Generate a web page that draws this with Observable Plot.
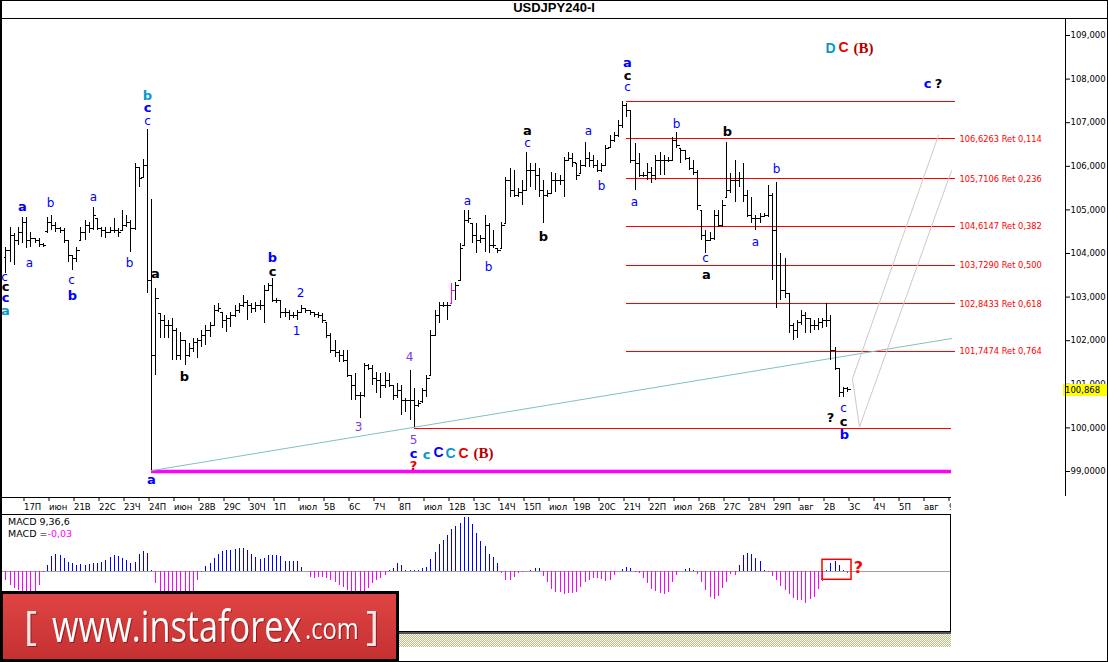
<!DOCTYPE html>
<html><head><meta charset="utf-8">
<script src="https://cdn.jsdelivr.net/npm/d3@7"></script>
<script src="https://cdn.jsdelivr.net/npm/@observablehq/plot@0.6"></script>
<style>
html,body{margin:0;padding:0;background:#fff;}
#wrap{position:relative;width:1108px;height:662px;overflow:hidden;background:#fff;font-family:"DejaVu Sans",sans-serif;}
.ln{position:absolute;background:#000;}
.abs{position:absolute;}
</style></head><body><div id="wrap"></div>
<script>
// ---------- DATA ----------
const dayLabels = ["17П","июн","21В","22С","23Ч","24П","июн","28В","29С","30Ч","1П","июл","5В","6С","7Ч","8П","июл","12В","13С","14Ч","15П","июл","19В","20С","21Ч","22П","июл","26В","27С","28Ч","29П","авг","2В","3С","4Ч","5П","авг","9"];
const priceTicks = [99,100,101,102,103,104,105,106,107,108,109];
const priceTickLabels = ["99,0000","100,000","101,000","102,000","103,000","104,000","105,000","106,000","107,000","108,000","109,000"];

const high = [104.14,104.60,104.46,104.60,104.83,104.83,104.48,104.34,104.34,104.23,
104.83,104.87,104.71,104.60,104.57,104.30,103.95,104.14,104.60,104.76,
104.71,105.06,104.80,104.60,104.60,104.60,104.80,104.57,104.99,104.87,
104.76,106.06,105.97,106.16,106.84,105.24,103.20,102.62,102.58,102.46,
102.51,102.28,102.19,102.00,101.94,102.05,102.05,102.23,102.35,102.42,
102.81,102.85,102.65,102.58,102.65,102.81,102.85,103.04,102.92,102.85,
102.88,102.92,103.27,103.31,103.43,102.97,102.92,102.74,102.69,102.65,
102.69,102.81,102.74,102.69,102.65,102.65,102.62,102.42,102.17,102.00,
101.78,101.78,101.78,101.20,101.25,100.81,101.48,101.45,101.43,101.27,
101.25,101.27,101.25,100.97,101.02,100.97,100.67,101.32,100.90,100.63,
100.90,101.20,102.23,102.69,102.88,102.88,102.88,103.31,103.33,104.23,
104.99,104.99,104.69,104.69,104.41,104.87,104.69,104.53,104.11,104.71,
105.74,105.95,105.90,105.49,105.67,106.32,106.06,106.06,105.95,105.67,
105.45,105.86,105.83,105.79,106.20,106.32,106.29,106.06,106.13,106.55,
106.32,106.25,106.13,106.06,106.48,106.71,106.78,107.05,107.49,107.45,
107.28,106.52,106.29,105.86,106.06,105.97,106.25,106.32,106.25,106.20,
106.66,106.78,106.41,106.36,106.20,106.13,105.90,104.99,104.53,104.48,
104.99,104.99,105.22,106.55,105.83,106.13,105.86,106.06,105.45,105.29,
104.87,104.92,104.92,105.56,105.38,105.63,104.00,103.89,103.08,102.39,
102.46,102.69,102.65,102.51,102.46,102.51,102.51,102.85,102.58,101.84,
101.36,100.93,100.93];
const low = [103.54,103.79,103.72,104.18,104.23,104.11,104.14,104.23,104.14,104.14,
104.46,104.53,104.48,104.46,104.23,103.79,103.61,103.79,104.30,104.30,
104.46,104.53,104.53,104.37,104.34,104.46,104.46,104.37,104.53,104.60,
104.02,104.53,105.51,105.74,103.08,99.02,101.20,102.05,102.05,102.05,
101.55,101.55,101.55,101.43,101.61,101.73,101.59,101.84,101.89,102.07,
102.35,102.65,102.28,102.19,102.30,102.53,102.62,102.76,102.46,102.62,
102.65,102.69,102.39,103.15,102.88,102.85,102.51,102.53,102.46,102.51,
102.46,102.62,102.62,102.58,102.53,102.51,102.39,102.05,101.71,101.61,
101.50,101.50,101.16,100.63,100.63,100.22,100.70,101.32,100.97,100.79,
100.67,100.90,100.93,100.63,100.67,100.28,100.35,100.17,100.01,100.47,
100.56,100.70,101.20,102.12,102.39,102.76,102.46,102.85,102.92,103.38,
104.18,104.69,104.23,104.00,104.23,104.02,104.00,104.11,104.00,104.11,
104.69,105.28,105.28,105.28,105.10,105.45,105.51,105.45,105.28,104.69,
105.28,105.38,105.40,105.56,105.28,106.13,105.97,105.67,105.83,105.97,
105.97,105.95,105.86,105.86,106.02,106.43,106.55,106.67,106.87,107.12,
106.06,105.45,105.74,105.74,105.67,105.60,105.67,105.79,105.79,106.09,
106.13,106.41,106.06,106.13,105.90,105.79,104.99,104.30,104.00,104.30,
104.30,104.60,104.60,105.28,105.38,105.17,105.51,105.17,104.83,104.69,
104.53,104.69,104.83,104.83,103.38,102.74,102.92,102.97,102.17,102.00,
102.05,102.35,102.17,102.17,102.23,102.23,102.28,102.30,101.55,101.32,
100.70,100.70,100.81];
const open = [103.90,104.07,104.41,104.30,104.48,104.71,104.30,104.34,104.30,104.21,
104.50,104.71,104.64,104.57,104.53,104.30,103.95,103.89,104.30,104.48,
104.64,104.57,104.80,104.57,104.53,104.48,104.53,104.53,104.53,104.64,
104.71,104.57,105.97,105.74,106.02,103.38,101.66,102.62,102.46,102.35,
102.35,102.23,101.66,102.00,101.66,101.82,101.96,102.00,102.12,102.23,
102.35,102.69,102.65,102.46,102.51,102.58,102.69,102.81,102.88,102.81,
102.74,102.81,102.81,103.15,103.27,102.92,102.92,102.65,102.65,102.58,
102.58,102.65,102.74,102.69,102.65,102.60,102.58,102.42,102.12,101.78,
101.73,101.66,101.55,101.20,100.97,100.74,100.74,101.43,101.36,101.13,
101.09,100.97,101.09,100.97,100.74,100.86,100.63,100.63,100.63,100.51,
100.60,100.86,101.20,102.12,102.58,102.81,102.81,102.85,103.15,103.38,
104.18,104.76,104.69,104.41,104.30,104.34,104.64,104.18,104.11,104.11,
104.69,105.67,105.45,105.33,105.40,105.45,105.90,105.90,105.79,105.45,
105.33,105.38,105.67,105.67,105.67,106.13,106.18,106.06,105.83,106.02,
106.18,106.13,106.02,105.90,106.02,106.43,106.59,106.71,106.94,107.40,
107.28,106.13,106.06,105.79,105.79,105.86,105.79,106.13,106.13,106.13,
106.13,106.59,106.41,106.36,106.18,105.95,105.86,104.99,104.41,104.30,
104.34,104.87,104.64,105.28,105.45,105.67,105.67,105.72,105.33,104.87,
104.80,104.80,104.85,104.87,105.33,104.53,103.72,103.15,103.08,102.35,
102.23,102.42,102.58,102.51,102.35,102.35,102.42,102.46,102.46,101.78,
101.36,100.81,100.90];
const close = [104.07,104.41,104.30,104.48,104.71,104.30,104.34,104.30,104.21,104.18,
104.71,104.64,104.57,104.53,104.30,103.95,103.89,104.07,104.48,104.64,
104.57,104.87,104.57,104.53,104.48,104.53,104.53,104.48,104.64,104.71,
104.57,105.97,105.72,106.02,103.38,101.66,102.97,102.46,102.35,102.35,
102.23,101.66,102.00,101.66,101.82,101.96,102.00,102.12,102.23,102.35,
102.69,102.74,102.46,102.51,102.58,102.69,102.81,102.88,102.81,102.74,
102.81,102.81,103.15,103.27,102.92,102.92,102.65,102.65,102.58,102.58,
102.65,102.74,102.69,102.65,102.60,102.58,102.46,102.12,101.78,101.73,
101.66,101.55,101.20,100.97,100.74,100.74,101.43,101.36,101.13,101.09,
100.97,101.09,100.97,100.74,100.86,100.63,100.63,100.63,100.51,100.56,
100.86,101.13,102.12,102.58,102.81,102.81,102.81,103.15,103.27,104.11,
104.76,104.80,104.41,104.30,104.34,104.64,104.18,104.18,104.07,104.64,
105.67,105.45,105.33,105.40,105.45,105.90,105.90,105.79,105.45,105.33,
105.38,105.67,105.67,105.67,106.13,106.18,106.09,105.79,106.02,106.18,
106.13,106.02,105.90,106.02,106.41,106.59,106.71,106.94,107.40,107.28,
106.13,106.06,105.79,105.79,105.86,105.79,106.13,106.13,106.13,106.13,
106.59,106.48,106.36,106.18,105.95,105.86,105.10,104.41,104.30,104.34,
104.87,104.64,105.10,105.45,105.67,105.67,105.72,105.33,104.87,104.80,
104.80,104.85,104.87,105.33,104.53,103.72,103.15,103.08,102.35,102.23,
102.42,102.58,102.51,102.35,102.35,102.42,102.46,102.46,101.78,101.36,
100.81,100.90,100.87];
const markedBar = 107;           // bar drawn in magenta
const lastPrice = 100.868;

const macd = [-0.18,-0.30,-0.36,-0.40,-0.44,-0.48,-0.48,-0.44,-0.30,-0.02,
0.14,0.32,0.38,0.34,0.28,0.20,0.18,0.14,0.15,0.14,
0.15,0.17,0.18,0.20,0.24,0.30,0.35,0.32,0.28,0.24,
0.18,0.20,0.38,0.44,0.40,0.03,-0.26,-0.55,-0.75,-0.85,
-0.90,-0.88,-0.80,-0.66,-0.50,-0.42,-0.18,-0.02,0.12,0.18,
0.28,0.38,0.44,0.46,0.46,0.47,0.49,0.49,0.46,0.38,
0.30,0.26,0.28,0.35,0.35,0.35,0.32,0.23,0.23,0.23,
0.23,0.10,0.01,-0.12,-0.15,-0.12,-0.12,-0.15,-0.18,-0.22,
-0.30,-0.33,-0.40,-0.44,-0.46,-0.44,-0.42,-0.36,-0.26,-0.18,
-0.15,-0.08,0.02,0.06,0.17,0.14,0.03,0.03,0.03,0.03,
0.06,0.10,0.26,0.42,0.58,0.68,0.78,0.90,0.98,1.03,
1.16,1.16,1.02,0.83,0.64,0.54,0.38,0.30,0.17,-0.04,
-0.18,-0.18,-0.12,-0.04,-0.01,0.01,0.03,0.06,0.06,-0.10,
-0.24,-0.37,-0.44,-0.44,-0.48,-0.46,-0.46,-0.44,-0.34,-0.24,
-0.19,-0.15,-0.15,-0.17,-0.20,-0.19,-0.08,0.01,0.04,0.10,
0.08,-0.01,-0.04,-0.15,-0.26,-0.37,-0.42,-0.46,-0.48,-0.44,
-0.22,-0.08,0.01,0.04,0.08,0.03,-0.06,-0.22,-0.40,-0.55,
-0.60,-0.52,-0.36,-0.24,-0.06,-0.08,0.14,0.34,0.40,0.38,
0.28,0.21,0.03,-0.01,-0.10,-0.19,-0.32,-0.39,-0.48,-0.57,
-0.62,-0.62,-0.68,-0.60,-0.54,-0.38,-0.20,0.03,0.17,0.22,
0.14,0.03,-0.03];

// Fibonacci retracement of the 107.48 -> 99.976 swing
const fibTop = 107.482, fibBottom = 99.976;
const fibPrices = [106.6263,105.7106,104.6147,103.7290,102.8433,101.7474];
const fibRatios = ["0,114","0,236","0,382","0,500","0,618","0,764"];
const fibStartBar = 149, fibEndBar = 228, fibBottomStartBar = 98, lineEndBar = 227;
const supportPrice = 99.0, supportStartBar = 35;
const trendLine = [{bar:35, price:99.02},{bar:227, price:102.05}];
const projA = [{bar:203.2, price:101.13},{bar:204.9, price:100.02},{bar:226.9, price:105.90}];
const projB = [{bar:203.2, price:101.13},{bar:223.8, price:106.71}];

// wave labels: [text, colour, bar, price]
const labelsNormal = [["b","blue",10.7,105.15],["a","blue",21.0,105.29],["c","blue",34.0,107.03],["c","blue",-0.3,103.45],
["a","blue",5.7,103.79],["c","blue",15.8,103.40],["b","blue",29.7,103.77],["2","blue",70.7,103.08],["1","blue",69.8,102.21],
["3","purple",84.6,100.01],["4","purple",96.9,101.62],["5","purple",97.8,99.71],["a","blue",110.8,105.19],["b","blue",115.8,103.68],
["c","blue",125.2,106.52],["a","blue",139.8,106.80],["b","blue",143.0,105.54],["c","blue",149.2,107.81],["a","blue",150.9,105.17],
["b","blue",161.0,106.96],["c","blue",167.9,103.89],["a","blue",179.9,104.25],["b","blue",185.0,105.93],["c","blue",201.1,100.45]];
const labelsBold = [["a","blue",4.0,105.06],["b","teal",34.0,107.62],["c","blue",34.0,107.33],["b","blue",64.0,103.91],
["c","black",64.0,103.59],["c","black",-0.1,103.24],["c","blue",-0.1,102.99],["a","teal",-0.1,102.69],["b","blue",16.0,103.04],
["a","black",35.9,103.54],["b","black",42.9,101.16],["a","blue",35.0,98.82],["c","blue",97.8,99.41],["c","teal",101.0,99.39],
["a","black",125.2,106.82],["b","black",129.0,104.39],["a","blue",149.2,108.38],["c","black",149.2,108.08],["a","black",168.2,103.52],
["b","black",173.2,106.80],["?","black",197.9,100.24],["c","black",201.1,100.15],["b","blue",201.3,99.85],["c","blue",221.2,107.90],
["?","black",223.8,107.90],["?","red",97.8,99.14]];
const labelsBig = [["C","blue",103.8,99.43],["C","teal",106.7,99.41],["C","red",109.8,99.41],["D","teal",197.9,108.70],["C","red",201.1,108.72]];
const labelsSerif = [["(B)","dred",114.6,99.41],["(B)","dred",205.8,108.72]];
const macdBox = [{bar1:196.1, bar2:202.9, v1:-0.171, v2:0.257}];
const macdNote = [{bar:204.6, v:0.086, t:"?"}];

// ---------- STYLE ----------
const col = {blue:"#0000ff", teal:"#0a98cc", black:"#000000", purple:"#7a3cf0", red:"#e80000", dred:"#b00000"};
const toObj = a => a.map(([t,c,bar,price]) => ({t, c:col[c], bar, price}));

const bars = high.map((h,i) => ({i, high:h, low:low[i], open:open[i], close:close[i]}));
const fib = fibPrices.map((p,k) => ({price:p, label: p.toFixed(4).replace(".",",") + " Ret " + fibRatios[k]}));
const macdData = macd.map((v,i) => ({i, v}));

const wrap = document.getElementById("wrap");
function line(x,y,w,h,c){const d=document.createElement("div");d.className="ln";d.style.cssText=`left:${x}px;top:${y}px;width:${w}px;height:${h}px;`+(c?`background:${c};`:"");wrap.appendChild(d);return d;}

// title
const title = document.createElement("div");
title.className="abs";
title.style.cssText='left:0;top:0;width:1108px;height:18px;line-height:19px;text-align:center;font:bold 13px "Liberation Sans",sans-serif;color:#000;';
title.textContent="USDJPY240-I";
wrap.appendChild(title);

// ---------- MAIN CHART ----------
const xDomMain = [-1.28, 254.32];
const main = Plot.plot({
  width:1108, height:498, marginLeft:0, marginRight:43, marginTop:0, marginBottom:19,
  x:{type:"linear", domain:xDomMain, axis:null, round:true},
  y:{domain:[98.4037,109.3899], axis:null},
  style:{background:"transparent", fontFamily:"DejaVu Sans", fontSize:"8.5px", overflow:"visible", color:"#000"},
  marks:[
    Plot.ruleY(fib, {y:"price", x1:fibStartBar, x2:fibEndBar, stroke:"#ff0000", strokeWidth:1, shapeRendering:"crispEdges"}),
    Plot.ruleY([fibTop], {x1:fibStartBar, x2:fibEndBar, stroke:"#ff0000", strokeWidth:1, shapeRendering:"crispEdges"}),
    Plot.ruleY([fibBottom], {x1:fibBottomStartBar, x2:lineEndBar, stroke:"#ff0000", strokeWidth:1, shapeRendering:"crispEdges"}),
    Plot.ruleY([supportPrice], {x1:supportStartBar, x2:lineEndBar, stroke:"#ff00ff", strokeWidth:3.5}),
    Plot.line(trendLine, {x:"bar", y:"price", stroke:"#80c0c0", strokeWidth:1}),
    Plot.line(projA, {x:"bar", y:"price", stroke:"#cdc6d2", strokeWidth:1}),
    Plot.line(projB, {x:"bar", y:"price", stroke:"#cdc6d2", strokeWidth:1}),
    Plot.ruleX(bars, {x:"i", y1:"low", y2:"high", stroke:d => d.i===markedBar ? "#ff00ff" : "#000", strokeWidth:1, shapeRendering:"crispEdges"}),
    Plot.link(bars, {x1:d=>d.i-0.62, x2:"i", y1:"open", y2:"open", stroke:d => d.i===markedBar ? "#ff00ff" : "#000", shapeRendering:"crispEdges"}),
    Plot.link(bars, {x1:"i", x2:d=>d.i+0.62, y1:"close", y2:"close", stroke:d => d.i===markedBar ? "#ff00ff" : "#000", shapeRendering:"crispEdges"}),
    Plot.text(fib, {x:fibEndBar+0.9, y:"price", text:"label", textAnchor:"start", fill:"#ff0000", fontSize:8.3}),
    Plot.text(toObj(labelsNormal), {x:"bar", y:"price", text:"t", fill:"c", fontSize:12, fontFamily:"DejaVu Sans"}),
    Plot.text(toObj(labelsBold), {x:"bar", y:"price", text:"t", fill:"c", fontSize:13, fontWeight:"bold", fontFamily:"DejaVu Sans"}),
    Plot.text(toObj(labelsBig), {x:"bar", y:"price", text:"t", fill:"c", fontSize:14, fontWeight:"bold", fontFamily:"Liberation Sans"}),
    Plot.text(toObj(labelsSerif), {x:"bar", y:"price", text:"t", fill:"c", fontSize:15, fontWeight:"bold", fontFamily:"Liberation Serif"}),
    Plot.axisX(d3.range(4, 227, 6), {anchor:"bottom", tickSize:4, tickPadding:2, textAnchor:"start", dx:1.5, tickFormat:(d,i)=>dayLabels[i], label:null, fontSize:8.5}),
    Plot.axisY(priceTicks, {anchor:"right", tickSize:4, tickPadding:1, tickFormat:(d,i)=>priceTickLabels[i], label:null, fontSize:8.5})
  ]
});
main.style.position="absolute"; main.style.left="0px"; main.style.top="18px";
wrap.appendChild(main);

// current price box, placed through the chart's own y scale
const yPix = 18 + main.scale("y").apply(lastPrice);
const pbox = document.createElement("div");
pbox.className="abs";
pbox.style.cssText=`left:1063px;top:${yPix-6}px;width:46px;height:12px;background:#ffff00;font:8.5px "DejaVu Sans";line-height:12px;padding-left:2px;color:#000;`;
pbox.textContent = lastPrice.toFixed(3).replace(".",",");
wrap.appendChild(pbox);

// ---------- MACD ----------
const macdPlot = Plot.plot({
  width:950, height:118, marginLeft:0, marginRight:0, marginTop:1, marginBottom:1,
  x:{type:"linear", domain:[-1.28, -1.28 + 950/4.16667], axis:null, round:true},
  y:{domain:[-1.279,1.206], axis:null},
  style:{background:"transparent", overflow:"visible"},
  marks:[
    Plot.ruleY([0], {stroke:"#a0a0a0", strokeWidth:1, shapeRendering:"crispEdges"}),
    Plot.ruleX(macdData, {x:"i", y1:0, y2:"v", stroke:d => d.v>=0 ? "#0000ff" : "#ff00ff", strokeWidth:1, shapeRendering:"crispEdges"}),
    Plot.rect(macdBox, {x1:"bar1", x2:"bar2", y1:"v1", y2:"v2", fill:"none", stroke:"#ff0000", strokeWidth:1.5}),
    Plot.text(macdNote, {x:"bar", y:"v", text:"t", fill:"#ff0000", fontSize:16, fontWeight:"bold", fontFamily:"DejaVu Sans"})
  ]
});
macdPlot.style.position="absolute"; macdPlot.style.left="0px"; macdPlot.style.top="514px";
wrap.appendChild(macdPlot);

const mt = document.createElement("div");
mt.className="abs";
mt.style.cssText='left:8px;top:516px;font:9.5px "DejaVu Sans";line-height:12px;color:#000;';
mt.innerHTML='MACD 9,36,6<br>MACD =<span style="color:#ff00ff">' + macd[macd.length-1].toFixed(2).replace(".",",") + '</span>';
wrap.appendChild(mt);

// ---------- FRAMES ----------
line(0,0,1108,1);           // top
line(0,0,2,662);            // left
line(1107,0,1,662);         // right
line(0,661,1108,1);         // bottom
line(0,18,1108,1);          // title separator
line(1065,18,1,478);        // price axis
line(0,497,951,1);          // x-axis row top
line(951,498,113,16,"#fff");// clip axis labels beyond the panel
line(0,514,951,1);          // macd top
line(950,514,1,118);        // macd right
line(0,631,951,1);          // macd bottom
line(0,632,951,2,"#555");
const hatch = document.createElement("div");
hatch.className="abs";
hatch.style.cssText="left:0;top:634px;width:951px;height:13px;background:repeating-conic-gradient(#bdbd8c 0 25%, #fbfbf2 0 50%) 0 0/2px 2px;";
wrap.appendChild(hatch);

// ---------- LOGO ----------
const logo = document.createElementNS("http://www.w3.org/2000/svg","svg");
logo.setAttribute("width","399"); logo.setAttribute("height","71");
logo.style.cssText="position:absolute;left:0;top:591px;";
logo.innerHTML = `<defs><linearGradient id="lg" x1="0" y1="0" x2="0" y2="1"><stop offset="0" stop-color="#e04545"/><stop offset="1" stop-color="#c43030"/></linearGradient></defs>
<rect x="1.5" y="1.5" width="396" height="68" fill="url(#lg)" stroke="#000" stroke-width="3"/>
<g font-family="Open Sans" fill="#fff" style="filter:drop-shadow(1px 1px 0 rgba(90,0,0,0.5))">
<g transform="translate(24,49)"><text font-size="40" fill="#f2e6e6">[</text></g>
<g transform="translate(52,50.5) scale(0.78,1)"><text font-size="44">www.instaforex</text></g>
<g transform="translate(305,48) scale(0.79,1)"><text font-size="30">.com</text></g>
<g transform="translate(366,49)"><text font-size="40" fill="#f2e6e6">]</text></g>
</g>`;
wrap.appendChild(logo);
</script></body></html>
